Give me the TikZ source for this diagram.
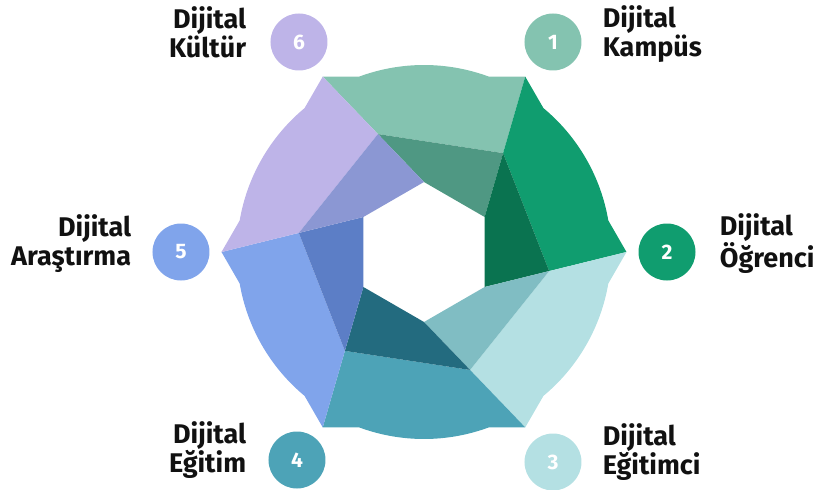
\documentclass[tikz,border=0pt]{standalone}
\usepackage{fontspec}
\setmainfont{Fira Sans}
\usetikzlibrary{calc}
\usetikzlibrary{positioning}
\definecolor{kampus}{HTML}{84C3B0}
\definecolor{kampusd}{HTML}{4F9883}
\definecolor{ogrenci}{HTML}{109D6F}
\definecolor{ogrencid}{HTML}{0A7350}
\definecolor{egitimci}{HTML}{B4E0E3}
\definecolor{egitimcid}{HTML}{80BDC3}
\definecolor{egitim}{HTML}{4DA3B7}
\definecolor{egitimd}{HTML}{236B7F}
\definecolor{arastirma}{HTML}{80A4EB}
\definecolor{arastirmad}{HTML}{5C7EC6}
\definecolor{kultur}{HTML}{BEB4E8}
\definecolor{kulturd}{HTML}{8B97D3}
\definecolor{ink}{HTML}{111111}
\tikzstyle{num}=[circle,minimum size=57pt,inner sep=0pt,text=white,font=\bfseries\fontsize{21}{21}\selectfont]
\tikzstyle{lbl}=[inner sep=0pt,text=ink,font=\bfseries\fontsize{27}{29}\selectfont]

\begin{document}
\begin{tikzpicture}[x=1pt,y=1pt]
	\useasboundingbox (-424,-238) rectangle (396,252);
	\foreach \j in {1,...,6}{
		\pgfmathsetmacro{\ang}{180-60*\j}
		\coordinate (o\j) at (\ang:202.5);
		\coordinate (h\j) at (\ang-30:70);
		\coordinate (p\j) at ($(o\j)!0.545!(h\j)$);
	}
	\foreach \k/\n/\lt/\dk in {1/2/kampus/kampusd,2/3/ogrenci/ogrencid,3/4/egitimci/egitimcid,4/5/egitim/egitimd,5/6/arastirma/arastirmad,6/1/kultur/kulturd}{
		\pgfmathsetmacro{\ang}{180-60*\k}
		\fill [\lt] (o\k) -- (\ang-9.7:187) arc [start angle=\ang-9.7, end angle=\ang-50.3, radius=187] -- (o\n) -- (p\n) -- (p\k) -- cycle;
		\fill [\dk] (p\k) -- (p\n) -- (h\n) -- (h\k) -- cycle;
	}

	\node [num, fill=kampus] (c1) at (129, 210) {1};
	\node [num, fill=ogrenci] (c2) at (243, 0) {2};
	\node [num, fill=egitimci] (c3) at (129, -210) {3};
	\node [num, fill=egitim] (c4) at (-127, -208) {4};
	\node [num, fill=arastirma] (c5) at (-243, 0) {5};
	\node [num, fill=kultur] (c6) at (-125, 210) {6};

	\node [lbl, align=left, right=21pt of c1, yshift=8pt] (t1) {Dijital\\Kampüs};
	\node [lbl, align=left, right=24pt of c2, yshift=8pt] (t2) {Dijital\\Öğrenci};
	\node [lbl, align=left, right=21pt of c3, yshift=10pt] (t3) {Dijital\\Eğitimci};
	\node [lbl, align=right, left=22pt of c4, yshift=10pt] (t4) {Dijital\\Eğitim};
	\node [lbl, align=right, left=21pt of c5, yshift=8pt] (t5) {Dijital\\Araştırma};
	\node [lbl, align=right, left=24pt of c6, yshift=10pt] (t6) {Dijital\\Kültür};
\end{tikzpicture}
\end{document}
